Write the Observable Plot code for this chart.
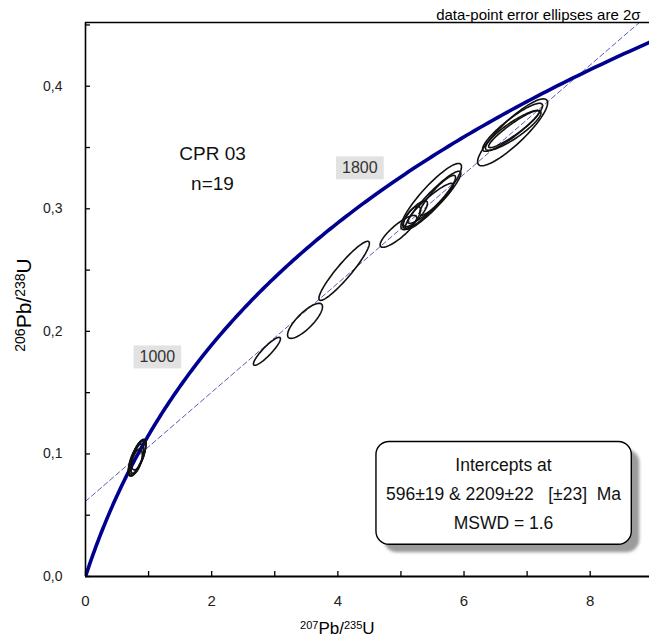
<!DOCTYPE html>
<html><head><meta charset="utf-8">
<script src="https://cdn.jsdelivr.net/npm/d3@7"></script>
<script src="https://cdn.jsdelivr.net/npm/@observablehq/plot@0.6"></script>
<style>body{margin:0;background:#fff;}</style>
</head><body>
<div id="chart"></div>
<script>
const FONT = "'Liberation Sans',Arial,sans-serif";

// ---- data: 19 analyses (207Pb/235U, 206Pb/238U), 2-sigma half widths, error correlation
const ratio75   = [0.82, 0.80, 0.84, 0.81, 0.83, 2.876, 3.48, 4.10, 4.96, 5.48, 5.51, 5.47, 5.58, 5.17, 5.23, 6.77, 6.77, 6.78, 6.79];
const err75     = [0.14, 0.12, 0.11, 0.09, 0.13, 0.214, 0.277, 0.40, 0.29, 0.48, 0.44, 0.36, 0.285, 0.14, 0.19, 0.555, 0.475, 0.44, 0.40];
const ratio68   = [0.097, 0.095, 0.099, 0.094, 0.0975, 0.1837, 0.2086, 0.2494, 0.2816, 0.310, 0.307, 0.3045, 0.311, 0.293, 0.296, 0.3624, 0.3665, 0.364, 0.365];
const err68     = [0.015, 0.013, 0.012, 0.010, 0.014, 0.0114, 0.0143, 0.0241, 0.013, 0.027, 0.0237, 0.0163, 0.0163, 0.009, 0.0106, 0.0273, 0.0196, 0.0163, 0.0151];
const errRho    = [0.75, 0.65, 0.6, 0.55, 0.8, 0.9, 0.8, 0.93, 0.85, 0.9, 0.93, 0.92, 0.9, 0.7, 0.8, 0.88, 0.9, 0.88, 0.93];

const interceptAges = [596, 2209];        // Ma
const ageLabels = [1000, 1800];           // Ma, labelled on concordia
const xTicks = [0, 1, 2, 3, 4, 5, 6, 7, 8];
const xTickLabels = [0, 2, 4, 6, 8];
const yTicks = [0, 0.05, 0.1, 0.15, 0.2, 0.25, 0.3, 0.35, 0.4, 0.45];
const yTickLabels = [0, 0.1, 0.2, 0.3, 0.4];
const xDomain = [0, 8.94];
const yDomain = [0, 0.452];
const sampleText = "CPR 03\nn=19";
const resultText = "Intercepts at\n596±19 & 2209±22   [±23]  Ma\nMSWD = 1.6";
const noteText = "data-point error ellipses are 2σ";

// ---- decay constants (1/yr)
const L235 = 9.8485e-10, L238 = 1.55125e-10;
const conc = t => ({x: Math.exp(L235 * t * 1e6) - 1, y: Math.exp(L238 * t * 1e6) - 1, t});

const concordia = d3.range(0, 2420, 10).map(conc);
const [pA, pB] = interceptAges.map(conc);
const slope = (pB.y - pA.y) / (pB.x - pA.x);
const discordia = xDomain.map(x => ({x, y: pA.y + slope * (x - pA.x)}));
const agePts = ageLabels.map(conc);

const ellipsePts = [];
ratio75.forEach((cx, i) => {
  const sx = err75[i], cy = ratio68[i], sy = err68[i], r = errRho[i];
  const k = Math.sqrt(1 - r * r);
  for (let a = 0; a <= 360; a += 4) {
    const th = a * Math.PI / 180;
    ellipsePts.push({id: i, x: cx + sx * Math.cos(th), y: cy + sy * (r * Math.cos(th) + k * Math.sin(th))});
  }
});

const comma = d => d.toFixed(1).replace(".", ",");

const chart = Plot.plot({
  width: 649, height: 640,
  marginLeft: 85, marginRight: 0, marginTop: 22, marginBottom: 64,
  x: {domain: xDomain, label: null},
  y: {domain: yDomain, label: null},
  style: {fontFamily: FONT, background: "white", color: "black"},
  marks: [
    Plot.axisX({ticks: xTicks, tickSize: -5, tickFormat: () => "", strokeWidth: 1.3}),
    Plot.axisX({ticks: xTickLabels, tickSize: 0, tickPadding: 19, fontSize: 15, tickFormat: d => String(d), fill: "#222"}),
    Plot.axisY({ticks: yTicks, tickSize: -5, tickFormat: () => "", strokeWidth: 1.3}),
    Plot.axisY({ticks: yTickLabels, tickSize: 0, tickPadding: 23, fontSize: 14, tickFormat: comma, fill: "#222"}),
    Plot.line(discordia, {x: "x", y: "y", stroke: "#5c5cb4", strokeWidth: 1, strokeDasharray: "5,3", clip: true}),
    Plot.line(concordia, {x: "x", y: "y", stroke: "#000090", strokeWidth: 3.6, clip: true}),
    Plot.line(ellipsePts, {x: "x", y: "y", z: "id", stroke: "#111", strokeWidth: 1.6}),
    Plot.ruleX([xDomain[0]], {stroke: "black", strokeWidth: 1.6}),
    Plot.ruleY([yDomain[0]], {stroke: "black", strokeWidth: 1.8}),
    Plot.ruleY([yDomain[1]], {stroke: "black", strokeWidth: 1.6}),
    Plot.text(agePts, {x: "x", y: "y", text: d => String(d.t), dx: -34, dy: -13.5, fontSize: 16, textAnchor: "middle", lineAnchor: "middle", fill: "#333"}),
    Plot.text([sampleText], {frameAnchor: "top-left", dx: 127, dy: 143, fontSize: 19, lineHeight: 1.58, textAnchor: "middle", lineAnchor: "middle", fill: "#111"}),
    Plot.text([resultText], {frameAnchor: "bottom-right", dx: -146, dy: -86, fontSize: 17.5, lineHeight: 1.68, textAnchor: "middle", lineAnchor: "middle", fill: "#111"}),
    Plot.text([noteText], {frameAnchor: "top-right", dx: -9, dy: -3, fontSize: 15, textAnchor: "end", lineAnchor: "bottom"})
  ]
});

document.getElementById("chart").append(chart);

// ---- post-process: label boxes and axis titles
const svg = d3.select(chart);
const defs = svg.insert("defs", ":first-child");
defs.append("filter").attr("id", "blur").append("feGaussianBlur").attr("stdDeviation", 1.6);

svg.selectAll("text").each(function() {
  const t = this.textContent;
  const tr = this.getAttribute("transform");
  if (ageLabels.map(String).includes(t)) {
    const bb = this.getBBox();
    d3.select(this.parentNode).insert("rect", () => this).attr("transform", tr)
      .attr("x", bb.x - 6).attr("y", bb.y - 3).attr("width", bb.width + 12).attr("height", bb.height + 6)
      .attr("fill", "#e2e2e2");
  } else if (t.startsWith("Intercepts")) {
    const bb = this.getBBox();
    const p = d3.select(this.parentNode);
    const x = bb.x - 10, y = bb.y - 13, w = bb.width + 20, h = bb.height + 24;
    p.insert("rect", () => this).attr("transform", tr).attr("x", x + 8).attr("y", y + 8).attr("width", w).attr("height", h)
      .attr("rx", 13).attr("fill", "#9b9b9b").attr("filter", "url(#blur)");
    p.insert("rect", () => this).attr("transform", tr).attr("x", x).attr("y", y).attr("width", w).attr("height", h)
      .attr("rx", 13).attr("fill", "white").attr("stroke", "black").attr("stroke-width", 1.4);
  }
});

const xs = chart.scale("x"), ys = chart.scale("y");
function isoLabel(sel, parts, big, small) {
  parts.forEach(([s, sup]) => {
    sel.append("tspan").attr("font-size", sup ? small : big).attr("baseline-shift", sup ? "45%" : null).text(s);
  });
}
const xl = svg.append("text").attr("x", xs.apply(4)).attr("y", 634).attr("text-anchor", "middle")
  .attr("font-family", FONT).attr("fill", "black");
isoLabel(xl, [["207", true], ["Pb/", false], ["235", true], ["U", false]], 17, 11);
const ymid = (ys.apply(yDomain[0]) + ys.apply(yDomain[1])) / 2;
const yl = svg.append("text").attr("transform", `translate(31,${ymid + 6}) rotate(-90)`).attr("text-anchor", "middle")
  .attr("font-family", FONT).attr("fill", "black");
isoLabel(yl, [["206", true], ["Pb/", false], ["238", true], ["U", false]], 21, 14);
</script>
</body></html>
